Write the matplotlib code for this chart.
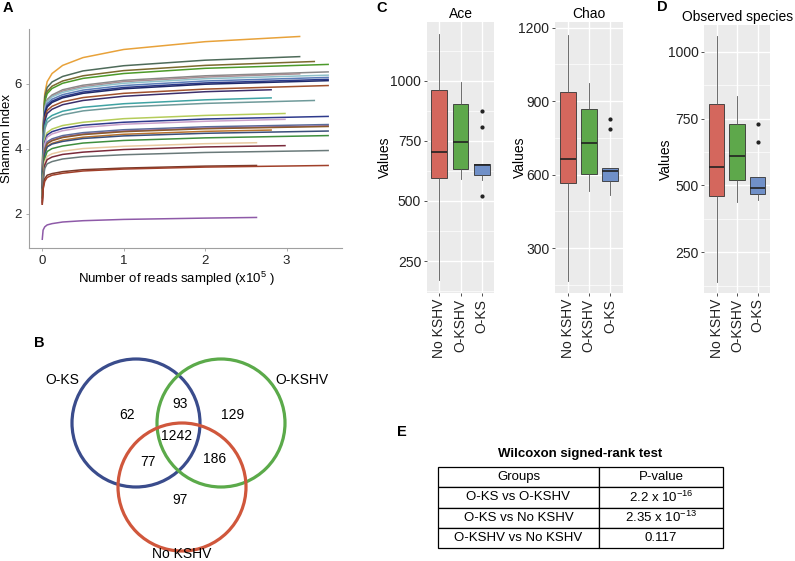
import numpy as np
import matplotlib.pyplot as plt
from matplotlib.patches import Circle

plt.rcParams['font.family'] = ['Liberation Sans', 'DejaVu Sans']
plt.rcParams['mathtext.default'] = 'regular'

# ---- A: Shannon rarefaction curves (reads in units of 1e5) ----
reads_grid = [0, 0.01, 0.03, 0.06, 0.12, 0.25, 0.5, 1.0, 2.0]
shannon_curves = [
    [3.0, 4.6, 5.70, 6.07, 6.32, 6.57, 6.81, 7.06, 7.30],
    [3.0, 4.6, 5.60, 5.89, 6.06, 6.23, 6.40, 6.56, 6.73],
    [2.9, 4.5, 5.50, 5.77, 5.93, 6.09, 6.25, 6.41, 6.57],
    [2.8, 4.4, 5.45, 5.70, 5.86, 6.02, 6.17, 6.32, 6.48],
    [3.0, 4.3, 5.30, 5.52, 5.66, 5.82, 5.96, 6.11, 6.25],
    [2.7, 4.2, 5.25, 5.48, 5.62, 5.78, 5.92, 6.07, 6.21],
    [2.9, 4.2, 5.20, 5.46, 5.60, 5.74, 5.88, 6.02, 6.16],
    [3.1, 4.1, 5.15, 5.39, 5.53, 5.67, 5.81, 5.95, 6.09],
    [2.6, 4.0, 5.10, 5.33, 5.47, 5.61, 5.75, 5.89, 6.03],
    [2.9, 4.0, 5.05, 5.29, 5.43, 5.57, 5.71, 5.85, 5.99],
    [2.5, 3.9, 4.95, 5.18, 5.31, 5.45, 5.58, 5.71, 5.84],
    [2.7, 3.9, 4.85, 5.09, 5.22, 5.36, 5.49, 5.62, 5.76],
    [2.9, 3.8, 4.70, 4.92, 5.03, 5.16, 5.28, 5.39, 5.51],
    [2.6, 3.7, 4.60, 4.81, 4.93, 5.05, 5.17, 5.29, 5.40],
    [2.8, 3.6, 4.30, 4.50, 4.61, 4.72, 4.82, 4.93, 5.03],
    [2.5, 3.5, 4.20, 4.43, 4.53, 4.63, 4.73, 4.82, 4.92],
    [2.7, 3.5, 4.15, 4.36, 4.46, 4.56, 4.66, 4.76, 4.85],
    [2.6, 3.4, 4.00, 4.22, 4.31, 4.41, 4.50, 4.59, 4.68],
    [2.4, 3.3, 3.95, 4.18, 4.27, 4.37, 4.46, 4.55, 4.64],
    [2.7, 3.35, 3.95, 4.16, 4.25, 4.35, 4.44, 4.53, 4.62],
    [2.5, 3.3, 3.85, 4.08, 4.17, 4.27, 4.36, 4.45, 4.54],
    [2.8, 3.3, 3.85, 4.06, 4.15, 4.23, 4.32, 4.40, 4.48],
    [2.5, 3.2, 3.70, 3.92, 4.01, 4.09, 4.18, 4.26, 4.34],
    [2.4, 3.1, 3.60, 3.77, 3.85, 3.93, 4.01, 4.08, 4.16],
    [2.3, 3.0, 3.50, 3.67, 3.75, 3.83, 3.90, 3.98, 4.06],
    [2.5, 3.0, 3.40, 3.54, 3.61, 3.69, 3.76, 3.82, 3.89],
    [2.35, 2.8, 3.08, 3.19, 3.24, 3.30, 3.36, 3.41, 3.47],
    [2.3, 2.75, 3.00, 3.12, 3.19, 3.25, 3.32, 3.38, 3.44],
    [1.22, 1.5, 1.60, 1.66, 1.70, 1.75, 1.79, 1.83, 1.87],
]
reads_end = [3.16, 3.16, 3.34, 3.51, 3.51, 3.16, 3.51, 3.51, 3.51, 3.51,
             3.51, 2.81, 2.81, 3.34, 2.98, 3.51, 2.98, 3.51, 3.51, 3.51,
             2.81, 3.51, 3.51, 2.63, 2.98, 3.51, 2.63, 3.51, 2.63]
shannon_end = [7.46, 6.84, 6.69, 6.60, 6.37, 6.31, 6.27, 6.20, 6.14, 6.10,
               5.95, 5.82, 5.57, 5.49, 5.09, 5.00, 4.91, 4.75, 4.71, 4.69,
               4.58, 4.55, 4.41, 4.19, 4.10, 3.95, 3.49, 3.49, 1.89]
curve_colors = ['#E8A23A', '#4E6B5A', '#7B6A2E', '#4C9A2A', '#8A8A8A',
                '#A98E93', '#8FC1C9', '#5B7DB8', '#2B3A8A', '#1F2A6B',
                '#A0522D', '#3B2F6B', '#3FA3A3', '#6F9A9A', '#B5CC5A',
                '#2E3A8C', '#C9A0C9', '#5A6E9A', '#8E6A9E', '#8B5A2B',
                '#B8732E', '#3A4F7A', '#3E8E3E', '#E8C9A0', '#7A2A3A',
                '#6A7A7A', '#7A3A2A', '#A0402A', '#8E5AA8']

# ---- B: Venn counts ----
venn_names = ['O-KS', 'O-KSHV', 'No KSHV']
venn_counts = {'100': 62, '110': 93, '010': 129, '111': 1242,
               '101': 77, '011': 186, '001': 97}

# ---- C/D: box plot summaries (whislo, q1, median, q3, whishi) ----
groups = ['No KSHV', 'O-KSHV', 'O-KS']
group_colors = ['#D4675D', '#5EA84B', '#7090C8']
ace_stats = [[172, 594, 702, 960, 1192], [593, 634, 744, 904, 993], [587, 609, 651, 654, 654]]
ace_fliers = [[], [], [875, 807, 521]]
chao_stats = [[166, 566, 663, 937, 1171], [532, 604, 728, 869, 974], [517, 575, 616, 626, 626]]
chao_fliers = [[], [], [829, 787]]
obs_stats = [[140, 462, 569, 805, 1059], [437, 519, 609, 731, 835], [447, 469, 492, 532, 532]]
obs_fliers = [[], [], [729, 664]]

# ---- E: table ----
table_header = ['Groups', 'P-value']
table_groups = ['O-KS vs O-KSHV', 'O-KS vs No KSHV', 'O-KSHV vs No KSHV']
table_pvalues = ['2.2 x 10$^{-16}$', '2.35 x 10$^{-13}$', '0.117']

W, H = 795, 561
fig = plt.figure(figsize=(W / 100, H / 100), dpi=100)


def px_axes(left, top, right, bottom):
    return fig.add_axes([left / W, 1 - bottom / H, (right - left) / W, (bottom - top) / H])


def px_text(x, y, s, **kw):
    fig.text(x / W, 1 - y / H, s, **kw)


# A
ax = px_axes(29, 29, 342, 248)
for ys, xe, ye, c in zip(shannon_curves, reads_end, shannon_end, curve_colors):
    ax.plot(reads_grid + [xe], ys + [ye], color=c, lw=1.1)
ax.set_xlim(-0.163, 3.68)
ax.set_ylim(0.95, 7.69)
ax.set_xticks([0, 1, 2, 3])
ax.set_yticks([2, 4, 6])
for s in ['top', 'right']:
    ax.spines[s].set_visible(False)
for s in ['left', 'bottom']:
    ax.spines[s].set_color('#A0A0A0')
ax.tick_params(length=2, width=0.6, color='#A0A0A0', labelsize=9.5, pad=3, labelcolor='#222222')
ax.set_xlabel('Number of reads sampled (x10$^{5}$ )', fontsize=9.5)
ax.xaxis.set_label_coords(0.47, -0.1)
ax.set_ylabel('Shannon Index', fontsize=9.5, labelpad=1)
px_text(8, 8, 'A', fontsize=10.5, fontweight='bold', va='center', ha='center')

# B
axv = px_axes(0, 291, 360, 561)
axv.set_xlim(0, 360)
axv.set_ylim(561, 291)
axv.axis('off')
for (cx, cy), col in zip([(136, 423), (221, 423), (182, 487)], ['#3A4C8C', '#5BAA4A', '#D0573C']):
    axv.add_patch(Circle((cx, cy), 64, fill=False, ec=col, lw=2.3))
label_pos = {'100': (127, 415), '110': (180, 404), '010': (233, 415), '111': (177, 436),
             '101': (148, 462), '011': (215, 459), '001': (180, 500)}
for key, n in venn_counts.items():
    x, y = label_pos[key]
    axv.text(x, y, str(n), ha='center', va='center', fontsize=10)
for name, (x, y) in zip(venn_names, [(62, 380), (302, 380), (182, 554)]):
    axv.text(x, y, name, ha='center', va='center', fontsize=10)
px_text(39, 343, 'B', fontsize=10.5, fontweight='bold', va='center', ha='center')


# C / D
def box_panel(rect, stats, fliers, ylim, yticks, title, label_x):
    a = px_axes(*rect)
    a.set_facecolor('#EBEBEB')
    bstats = []
    for st, fl in zip(stats, fliers):
        bstats.append(dict(whislo=st[0], q1=st[1], med=st[2], q3=st[3], whishi=st[4], fliers=fl))
    bp = a.bxp(bstats, positions=[1, 2, 3], widths=0.75, patch_artist=True, showcaps=False,
               boxprops=dict(lw=0.6, ec='#333333'),
               medianprops=dict(color='#222222', lw=1.2),
               whiskerprops=dict(color='#555555', lw=0.6),
               flierprops=dict(marker='o', ms=2, mfc='#222222', mec='#222222'))
    for patch, c in zip(bp['boxes'], group_colors):
        patch.set_facecolor(c)
    a.set_xlim(0.4, 3.6)
    a.set_ylim(*ylim)
    a.set_yticks(yticks)
    step = yticks[1] - yticks[0]
    minor = [yticks[0] - step / 2] + [t + step / 2 for t in yticks]
    for m in minor:
        a.axhline(m, color='white', lw=0.5, zorder=0)
    for t in yticks:
        a.axhline(t, color='white', lw=1.0, zorder=0)
    for p in [1, 2, 3]:
        a.axvline(p, color='white', lw=1.0, zorder=0)
    a.set_xticks([1, 2, 3])
    a.set_xticklabels(groups, rotation=90)
    for s in a.spines.values():
        s.set_visible(False)
    a.tick_params(length=2, width=0.6, color='#333333', labelsize=10, pad=2, labelcolor='#222222')
    a.set_ylabel('Values', fontsize=10)
    a.yaxis.set_label_coords(label_x, 0.5)
    a.set_title(title, fontsize=10, pad=3)
    return a


box_panel((426.7, 21.7, 494.3, 293.3), ace_stats, ace_fliers, (116, 1245),
          [250, 500, 750, 1000], 'Ace', -0.52)
box_panel((555, 21.7, 622.7, 293.3), chao_stats, chao_fliers, (116, 1224),
          [300, 600, 900, 1200], 'Chao', -0.42)
box_panel((704.3, 25, 770, 293), obs_stats, obs_fliers, (98, 1100),
          [250, 500, 750, 1000], 'Observed species', -0.47)
px_text(382, 8, 'C', fontsize=10.5, fontweight='bold', va='center', ha='center')
px_text(662, 7, 'D', fontsize=10.5, fontweight='bold', va='center', ha='center')

# E
axt = px_axes(438, 467, 723, 548)
axt.axis('off')
cells = [table_header] + [[g, p] for g, p in zip(table_groups, table_pvalues)]
tb = axt.table(cellText=cells, colWidths=[161 / 285, 124 / 285], bbox=[0, 0, 1, 1], cellLoc='center')
tb.auto_set_font_size(False)
tb.set_fontsize(9.5)
for cell in tb.get_celld().values():
    cell.set_linewidth(0.9)
px_text(580, 454, 'Wilcoxon signed-rank test', fontsize=9.5, fontweight='bold', va='center', ha='center')
px_text(402, 432, 'E', fontsize=10.5, fontweight='bold', va='center', ha='center')

fig.savefig('out.png', dpi=100)
